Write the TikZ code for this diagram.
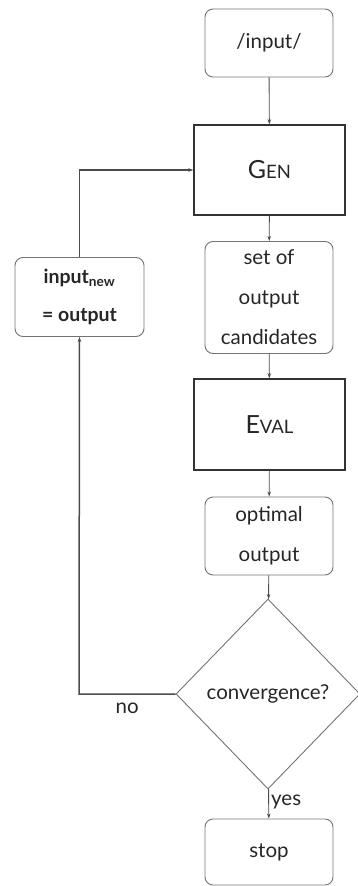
\documentclass[tikz,border=0pt]{standalone}
\usepackage{fontspec}
\setmainfont{Lato}
\usetikzlibrary{shapes.geometric,arrows.meta}
\begin{document}
\begin{tikzpicture}[x=1pt,y=-1pt,
  txt/.style={font=\fontsize{20.5}{40}\selectfont, text=black!85},
  rbox/.style={txt, draw=black!55, line width=0.9pt, rounded corners=8pt, align=center, inner sep=0pt, minimum width=128pt},
  sbox/.style={txt, draw=black!80, line width=1.4pt, align=center, inner sep=0pt, minimum width=151pt, minimum height=90pt},
  dbox/.style={txt, draw=black!55, line width=0.9pt, diamond, aspect=1, inner sep=0pt, minimum width=184pt, minimum height=190pt},
  arr/.style={draw=black!70, line width=0.9pt, -{Stealth[length=5pt,width=3.5pt]}},
  loop/.style={draw=black!70, line width=1.5pt, -{Stealth[length=5pt,width=3.5pt]}},
  lbl/.style={txt, inner sep=2pt}
]
\useasboundingbox (0,0) rectangle (358,886);
\node[rbox, minimum height=68pt] (in) at (269,43) {/input/};
\node[sbox] (gen) at (269.5,170) {{\fontsize{25}{25}\selectfont G}{\fontsize{18.5}{18.5}\selectfont EN}};
\node[rbox, minimum height=112pt] (cand) at (269,297.5) {set of\\output\\candidates};
\node[rbox, minimum width=129pt, minimum height=79pt, font=\bfseries\fontsize{19.5}{38}\selectfont] (new) at (79.5,297) {input\textsubscript{new}\\= output};
\node[sbox, minimum height=91pt] (eval) at (269.5,424.5) {{\fontsize{25}{25}\selectfont E}{\fontsize{18.5}{18.5}\selectfont VAL}};
\node[rbox, minimum height=78pt] (opt) at (269,536) {optimal\\output};
\node[dbox] (conv) at (268,694) {convergence?};
\node[rbox, minimum height=66pt] (stop) at (269,852) {stop};
\coordinate (corner) at (79,694);
\draw[arr] (in) -- (gen);
\draw[arr] (gen) -- (cand);
\draw[arr] (cand) -- (eval);
\draw[arr] (eval) -- (opt);
\draw[arr] (opt) -- (conv);
\draw[arr] (conv) -- node[lbl, right, pos=0.45] {yes} (stop);
\draw[loop] (conv.west) -- node[lbl, below, pos=0.5, yshift=-6pt] {no} (corner) -- (new.south);
\draw[loop] (new.north) |- (gen.west);
\end{tikzpicture}
\end{document}
